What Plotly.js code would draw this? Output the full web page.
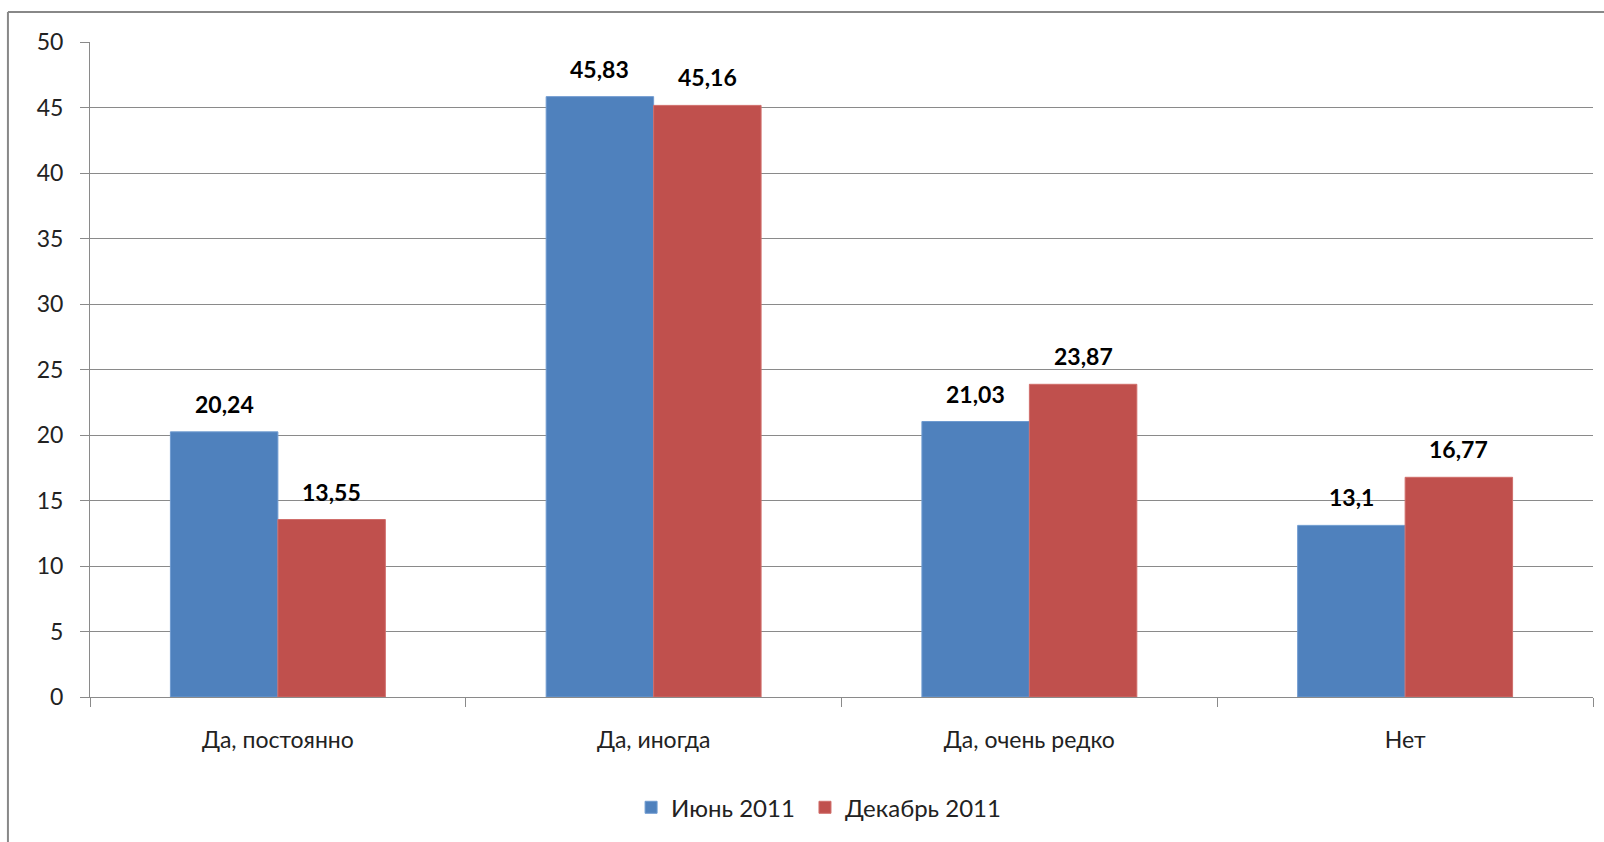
<!DOCTYPE html>
<html>
<head>
<meta charset="utf-8">
<script src="https://cdn.plot.ly/plotly-3.0.1.min.js"></script>
<style>
html, body { margin: 0; padding: 0; background: #fff; }
#chart { width: 1604px; height: 842px; }
</style>
</head>
<body>
<div id="chart"></div>
<script>
const categories = ["Да, постоянно", "Да, иногда", "Да, очень редко", "Нет"];
const june2011 = [20.24, 45.83, 21.03, 13.1];
const december2011 = [13.55, 45.16, 23.87, 16.77];
const seriesNames = ["Июнь 2011", "Декабрь 2011"];
const yTicks = [0, 5, 10, 15, 20, 25, 30, 35, 40, 45, 50];

const FONT = "Lato, 'Open Sans', 'DejaVu Sans', sans-serif";
const fmt = v => String(v).replace('.', ',');
const BARGAP = 0.428;
const half = (1 - BARGAP) / 4; // centre offset of each bar within its group

const traces = [
  { type: 'bar', name: seriesNames[0], x: categories, y: june2011, legend: 'legend',
    marker: { color: '#4F81BD', line: { color: '#6f9bd0', width: 1 } }, hoverinfo: 'x+y' },
  { type: 'bar', name: seriesNames[1], x: categories, y: december2011, legend: 'legend2',
    marker: { color: '#C0504D', line: { color: '#d06e6b', width: 1 } }, hoverinfo: 'x+y' }
];

const labelAnn = (vals, off) => vals.map((v, i) => ({
  xref: 'x', yref: 'y', x: i + off, y: v, yanchor: 'bottom', xanchor: 'center',
  yshift: 12, showarrow: false, text: '<b>' + fmt(v) + '</b>',
  font: { family: FONT, size: 23, color: '#000' }
}));

const legendBase = { orientation: 'h', xanchor: 'left', y: -0.169, yanchor: 'middle',
  font: { family: FONT, size: 24, color: '#222' }, itemwidth: 30, bgcolor: 'rgba(0,0,0,0)' };

const layout = {
  width: 1604, height: 842,
  margin: { l: 90, r: 11, t: 42, b: 145 },
  paper_bgcolor: '#fff', plot_bgcolor: '#fff',
  font: { family: FONT, size: 23, color: '#222' },
  barmode: 'group', bargap: BARGAP, bargroupgap: 0,
  showlegend: true,
  legend: Object.assign({}, legendBase, { x: 0.360 }),
  legend2: Object.assign({}, legendBase, { x: 0.4757 }),
  xaxis: {
    type: 'category', showgrid: false, showline: true, linecolor: '#8a8a8a', linewidth: 1,
    ticks: 'outside', ticklen: 9, tickcolor: '#8a8a8a', tickson: 'boundaries',
    ticklabelstandoff: 22, tickfont: { family: FONT, size: 23, color: '#222' }, fixedrange: true
  },
  yaxis: {
    range: [0, 50], tickvals: yTicks, ticktext: yTicks.map(String),
    showgrid: true, gridcolor: '#8a8a8a', gridwidth: 1, zeroline: false,
    showline: true, linecolor: '#8a8a8a', linewidth: 1,
    ticks: 'outside', ticklen: 9, tickcolor: '#8a8a8a',
    ticklabelstandoff: 12, tickfont: { family: FONT, size: 23, color: '#222' }, fixedrange: true
  },
  annotations: labelAnn(june2011, -half).concat(labelAnn(december2011, half)),
  shapes: [
    { type: 'line', xref: 'paper', yref: 'paper', x0: -0.0546, x1: -0.0546, y0: -0.3, y1: 1.0458,
      line: { color: '#888', width: 2 } },
    { type: 'line', xref: 'paper', yref: 'paper', x0: -0.0546, x1: 1.02, y0: 1.0458, y1: 1.0458,
      line: { color: '#888', width: 2 } }
  ]
};

Plotly.newPlot('chart', traces, layout, { displayModeBar: false, staticPlot: true });
</script>
</body>
</html>
